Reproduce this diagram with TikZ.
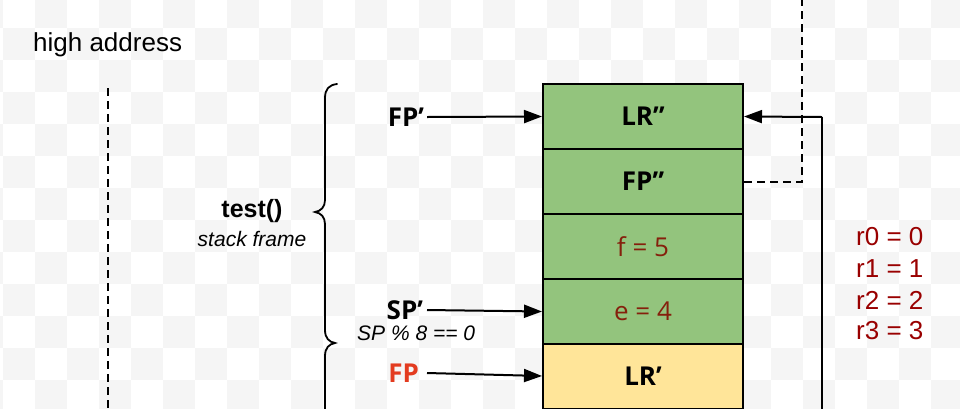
\documentclass[tikz,border=0pt]{standalone}
\usepackage{fontspec}
\setmainfont{Liberation Sans}
\newfontfamily\os{Open Sans}
\usetikzlibrary{arrows.meta}
\definecolor{cellgreen}{HTML}{93C47D}
\definecolor{cellyellow}{HTML}{FFE599}
\definecolor{valtxt}{HTML}{85200C}
\definecolor{regtxt}{HTML}{990000}
\definecolor{fpred}{HTML}{E33B1F}
\definecolor{checker}{HTML}{F5F5F5}
\begin{document}
\begin{tikzpicture}[x=1pt,y=-1pt,
  cell/.style={draw=black,line width=2pt,minimum width=200pt,minimum height=65pt,inner sep=0pt,font=\os\fontsize{26}{30}\selectfont},
  ptr/.style={font=\os\bfseries\fontsize{26}{30}\selectfont,anchor=east,inner sep=0pt,outer xsep=3pt},
  arr/.style={line width=2pt,-{Triangle[length=18pt,width=13pt]}},
  dsh/.style={line width=2pt,dash pattern=on 8pt off 5pt},
  note/.style={font=\itshape\fontsize{21}{24}\selectfont,inner sep=0pt},
  reg/.style={font=\fontsize{26}{31}\selectfont,text=regtxt,inner sep=0pt,anchor=west}]
\useasboundingbox (0,0) rectangle (960,408);
\clip (0,0) rectangle (960,408);
% transparency checkerboard
\foreach \j in {0,...,13}{
  \foreach \i in {-1,...,29}{
    \pgfmathtruncatemacro\ck{mod(\i+\j+2,2)}
    \ifnum\ck=1
      \fill[checker] (3+32*\i,-4+32*\j) rectangle ++(32,32);
    \fi
  }
}
% left text
\node[font=\fontsize{26}{30}\selectfont,anchor=base west,inner sep=0pt] (high) at (33,51) {high address};
\coordinate (ltop) at (108,88);
\coordinate (lbot) at (108,412);
\draw[dsh] (ltop) -- (lbot);
% stack cells
\node[cell,fill=cellgreen] (b1) at (643,116.5) {\bfseries LR”};
\node[cell,fill=cellgreen] (b2) at (643,181.5) {\bfseries FP”};
\node[cell,fill=cellgreen,text=valtxt] (b3) at (643,246.5) {f = 5};
\node[cell,fill=cellgreen,text=valtxt] (b4) at (643,311.5) {e = 4};
\node[cell,fill=cellyellow] (b5) at (643,376) {\bfseries LR’};
% pointers
\node[ptr] (fpp) at (427,117) {FP’};
\node[ptr] (spp) at (426,310) {SP’};
\node[ptr,text=fpred] (fp) at (422,373) {FP};
\draw[arr] (fpp.east) -- (b1.west);
\draw[arr] (spp.east -| fpp.east) -- (b4.west);
\draw[arr] (fp.east -| fpp.east) -- (b5.west);
\node[note,anchor=west] (spnote) at (357,333) {SP \% 8 == 0};
% brace and label
\draw[line width=1.8pt,line cap=round]
  (337,84) .. controls (329,85) and (325,89) .. (325,98)
  -- (325,200) .. controls (325,207) and (321,211) .. (315,212)
  .. controls (321,213) and (325,217) .. (325,224)
  -- (325,330) .. controls (325,338) and (329,342) .. (335,343)
  .. controls (329,344) and (325,348) .. (325,356)
  -- (325,412);
\node[font=\bfseries\fontsize{25}{28}\selectfont,inner sep=0pt] (test) at (252,211) {test()};
\node[note] (sf) at (252,239) {stack frame};
% right connectors
\coordinate (rtop) at (822,117);
\coordinate (rbot) at (822,412);
\draw[arr] (rtop) -- (b1.east);
\draw[line width=2pt] (rtop) -- (rbot);
\coordinate (dtop) at (802,-3);
\draw[dsh] (b2.east) -| (dtop);
% register values
\node[reg] (r0) at (856,237) {r0 = 0};
\node[reg] (r1) at (856,269) {r1 = 1};
\node[reg] (r2) at (856,300) {r2 = 2};
\node[reg] (r3) at (856,331) {r3 = 3};
\end{tikzpicture}
\end{document}
